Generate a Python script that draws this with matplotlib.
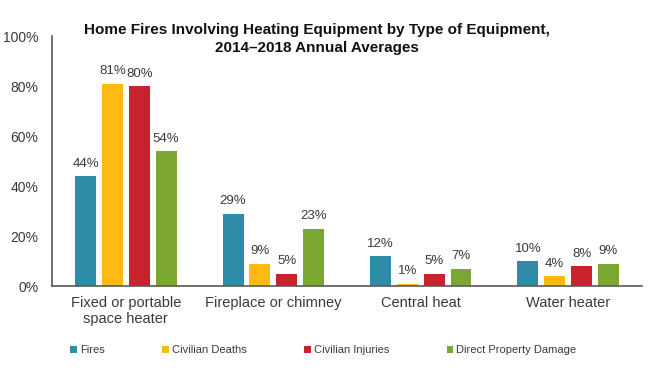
import matplotlib.pyplot as plt
import numpy as np

categories = ['Fixed or portable\nspace heater', 'Fireplace or chimney', 'Central heat', 'Water heater']
series = ['Fires', 'Civilian Deaths', 'Civilian Injuries', 'Direct Property Damage']
fires = [44, 29, 12, 10]
deaths = [81, 9, 1, 4]
injuries = [80, 5, 5, 8]
damage = [54, 23, 7, 9]
colors = ['#2E8CA8', '#FDBA12', '#C8232C', '#7BA631']

plt.rcParams['font.family'] = ['Liberation Sans', 'DejaVu Sans']
txt = '#3a3a3a'

fig = plt.figure(figsize=(6.68, 3.76), dpi=100)
ax = fig.add_axes([0.078, 0.239, 0.883, 0.665])

x = np.arange(len(categories))
step = 0.182
width = 0.142
for i, (name, vals) in enumerate(zip(series, [fires, deaths, injuries, damage])):
    pos = x + (i - 1.5) * step
    bars = ax.bar(pos, vals, width, color=colors[i], label=name)
    ax.bar_label(bars, labels=[f'{v}%' for v in vals], padding=4.5, fontsize=9.5, color=txt)

ax.set_xlim(-0.5, 3.5)
ax.set_ylim(0, 100)
ax.set_yticks(range(0, 101, 20))
ax.set_yticklabels([f'{t}%' for t in range(0, 101, 20)], fontsize=10, color=txt)
ax.set_xticks(x)
ax.set_xticklabels(categories, fontsize=10.5, color=txt)
ax.tick_params(axis='x', length=0, pad=7)
ax.tick_params(axis='y', length=0, pad=10)
for s in ['top', 'right']:
    ax.spines[s].set_visible(False)
for s in ['left', 'bottom']:
    ax.spines[s].set_color('#595959')
    ax.spines[s].set_linewidth(1.2)

fig.text(0.474, 0.897, 'Home Fires Involving Heating Equipment by Type of Equipment,\n2014\u20132018 Annual Averages',
         ha='center', va='center', fontsize=11, fontweight='bold', linespacing=1.35, color='#111111')

leg = fig.legend(loc='center', bbox_to_anchor=(0.484, 0.069), ncol=4, frameon=False, fontsize=8,
                 handlelength=0.6, handleheight=0.6, handletextpad=0.25, columnspacing=5.2)
for t in leg.get_texts():
    t.set_color(txt)

fig.savefig('out.png', dpi=100)
